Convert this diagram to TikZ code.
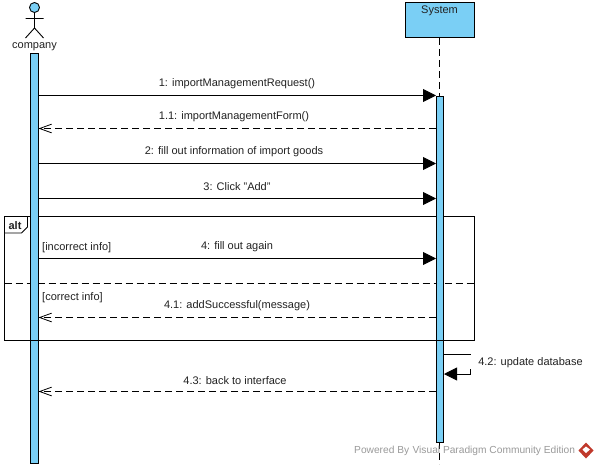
\documentclass[tikz,border=0pt]{standalone}
\usepackage{fontspec}
\setmainfont{Liberation Sans}
\usetikzlibrary{arrows.meta}
\definecolor{actblue}{HTML}{7ACFF5}
\definecolor{txt}{HTML}{222222}
\definecolor{wm}{HTML}{9A9A9A}
\definecolor{wmred}{HTML}{C0392B}
\tikzset{
  x=1pt,y=-1pt,
  lbl/.style={font=\fontsize{11}{12}\selectfont,text=txt,inner sep=0pt},
  activation/.style={draw=black,fill=actblue,line width=0.9pt},
  lifeline/.style={draw=black,line width=0.9pt,dash pattern=on 7pt off 4pt},
  call/.style={draw=black,line width=0.9pt,-{Triangle[length=13pt,width=13pt]}},
  reply/.style={draw=black,line width=0.9pt,dash pattern=on 7pt off 4pt,-{Straight Barb[length=12pt,width=12pt,angle'=40,line width=0.8pt]}},
  framebox/.style={draw=black,line width=0.9pt},
}
\begin{document}
\begin{tikzpicture}
\useasboundingbox (0,0) rectangle (598,467);
\fill[white] (0,0) rectangle (598,467);
% actor
\draw[black,line width=0.9pt,fill=actblue] (34.5,7.5) circle (5);
\draw[black,line width=0.9pt] (34.5,12.5) -- (34.5,28) (25.5,18.5) -- (43.5,18.5) (25.5,38) -- (34.5,28) -- (43.5,38);
\node[lbl] (company) at (34.5,46.5) {company};
% system
\node[framebox,fill=actblue,minimum width=69pt,minimum height=35pt,inner sep=0pt] (system) at (439.5,20) {};
\node[lbl] (systemlabel) at (439.5,11) {System};
% lifelines
\coordinate (sysT) at (439.5,95.5);
\coordinate (sysB) at (439.5,442);
\coordinate (sysE) at (439.5,464);
\draw[lifeline] (system.south) -- (sysT);
\draw[lifeline] (sysB) -- (sysE);
% frame (top and dashed divider lie under the activations)
\coordinate (fTL) at (4.5,216.5);
\coordinate (fBR) at (474.5,340.5);
\coordinate (fBL) at (4.5,340.5);
\draw[framebox] (fTL) rectangle (fBR);
\draw[framebox,fill=white] (4.5,216.5) -- (27.5,216.5) -- (27.5,227) -- (21.5,233) -- (4.5,233) -- cycle;
\node[lbl,font=\fontsize{11}{12}\bfseries\selectfont] (alt) at (15,225.5) {alt};
\draw[framebox,dash pattern=on 7pt off 4pt] (4.5,283.5) -- (474.5,283.5);
% activations
\node[activation,minimum width=7.5pt,minimum height=410pt,inner sep=0pt,anchor=north] (actL) at (34.5,52.5) {};
\node[activation,minimum width=7.5pt,minimum height=346.5pt,inner sep=0pt,anchor=north] (actR) at (440,95.5) {};
% bottom frame edge lies over the activations
\draw[framebox] (fBL) -- (fBR);
% messages
\foreach \n/\y in {a/95.5,b/128.5,c/163.5,d/198.5,e/258.5,f/317.5,g/391.5}{
  \coordinate (L\n) at (38.5,\y);
  \coordinate (R\n) at (436,\y);
}
\draw[call] (La) -- (Ra);
\draw[reply] (Rb) -- (Lb);
\draw[call] (Lc) -- (Rc);
\draw[call] (Ld) -- (Rd);
\draw[call] (Le) -- (Re);
\draw[reply] (Rf) -- (Lf);
\draw[reply] (Rg) -- (Lg);
\coordinate (s1) at (444,354.5);
\coordinate (s2) at (470.5,354.5);
\coordinate (s2b) at (470.5,369);
\coordinate (s3) at (470.5,374);
\coordinate (s4) at (444,374);
\draw[framebox] (s1) -- (s2);
\draw[call] (s2b) -- (s3) -- (s4);
% labels
\node[lbl] (m1) at (237,84) {1: importManagementRequest()};
\node[lbl] (m11) at (234,117) {1.1: importManagementForm()};
\node[lbl] (m2) at (234,152) {2: fill out information of import goods};
\node[lbl] (m3) at (237,187) {3: Click "Add"};
\node[lbl] (m4) at (237,247) {4: fill out again};
\node[lbl] (m41) at (237,306) {4.1: addSuccessful(message)};
\node[lbl] (m42) at (530.5,363) {4.2: update database};
\node[lbl] (m43) at (235,381) {4.3: back to interface};
\node[lbl,anchor=west] (g1) at (42,247.5) {[incorrect info]};
\node[lbl,anchor=west] (g2) at (42,298) {[correct info]};
% watermark
\node[lbl,font=\fontsize{10.2}{12}\selectfont,text=wm,anchor=west] (wmark) at (354,451) {Powered By\,\,Visual Paradigm Community Edition};
\fill[wmred] (586,442.5) -- (593.5,450.5) -- (586,458.5) -- (578.5,450.5) -- cycle;
\fill[white] (586,446.5) -- (590,449.5) -- (586,453) -- (582.5,449.5) -- cycle;
\end{tikzpicture}
\end{document}
